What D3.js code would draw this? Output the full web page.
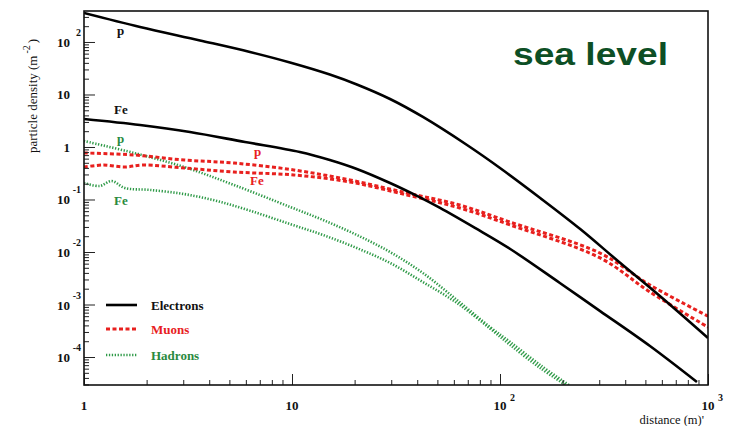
<!DOCTYPE html>
<html><head><meta charset="utf-8">
<script src="https://cdn.jsdelivr.net/npm/d3@7"></script>
<style>body{margin:0;background:#fff}svg{display:block}</style>
</head><body><svg id="c" width="730" height="426"></svg>
<script>
// ---- tick labels ----
const xTickValues = [1, 10, 100, 1000];
const xTickBases  = ["1", "10", "10", "10"];
const xTickExps   = ["", "", "2", "3"];
const yTickValues = [1e-4, 1e-3, 1e-2, 1e-1, 1, 10, 100];
const yTickBases  = ["10", "10", "10", "10", "1", "10", "10"];
const yTickExps   = ["-4", "-3", "-2", "-1", "", "", "2"];

// ---- series (distance in m, particle density in m^-2) ----
const electronsP_x = [1, 1.86, 3.61, 6.28, 9.78, 15.2, 20.5, 29.6, 42.6, 69.4, 100, 156, 243, 369, 587, 1000];
const electronsP_y = [356, 193, 107, 64.5, 40.7, 24.0, 15.5, 8.2, 3.73, 1.09, 0.398, 0.107, 0.0274, 0.00674, 0.00145, 0.00023];

const electronsFe_x = [1, 1.86, 3.23, 5.94, 10.9, 15.2, 20.5, 29.6, 39.9, 51.5, 75.8, 112, 194, 303, 526, 885];
const electronsFe_y = [3.41, 2.62, 1.93, 1.245, 0.803, 0.565, 0.381, 0.206, 0.117, 0.069, 0.0287, 0.0114, 0.00257, 0.00075, 0.000162, 0.0000334];

const muonsP_x = [1, 1.74, 3.03, 5.26, 10.2, 19, 35.7, 64, 112, 303, 526, 1000];
const muonsP_y = [0.77, 0.705, 0.565, 0.495, 0.365, 0.235, 0.133, 0.0785, 0.037, 0.0095, 0.00235, 0.0006];

const muonsFe_x = [1, 1.24, 1.56, 1.94, 3.03, 5.26, 10.2, 19, 35.7, 64, 112, 303, 526, 1000];
const muonsFe_y = [0.416, 0.454, 0.416, 0.454, 0.398, 0.334, 0.293, 0.215, 0.122, 0.069, 0.0327, 0.0077, 0.00173, 0.00037];

const hadronsP_x = [1, 1.74, 3.03, 5.26, 9.8, 14.1, 20.5, 29.6, 42.6, 62.1, 89.5, 112, 156, 215];
const hadronsP_y = [1.3, 0.77, 0.416, 0.189, 0.072, 0.0407, 0.0211, 0.010, 0.00398, 0.00122, 0.000373, 0.000193, 0.0000705, 0.000029];

const hadronsFe_x = [1, 1.19, 1.36, 1.57, 2.08, 3.03, 4.36, 6.35, 9.78, 14.1, 20.5, 29.6, 42.6, 62.1, 89.5, 112, 156, 208];
const hadronsFe_y = [0.206, 0.181, 0.225, 0.166, 0.152, 0.127, 0.0936, 0.0604, 0.0341, 0.0211, 0.0119, 0.0062, 0.00268, 0.00107, 0.00035, 0.000169, 0.0000617, 0.000029];

const legendNames = ["Electrons", "Muons", "Hadrons"];

// ---- chart ----
const svg = d3.select("#c");
const L = 84, R = 708, T = 11, B = 385;
const x = d3.scaleLog().domain([1, 1000]).range([L, R]);
const y = d3.scaleLog().domain([Math.pow(10, -4.533), Math.pow(10, 2.59)]).range([B, T]);

const RED = "#e8201e", GREEN = "#2f9a48", GREEN_T = "#2a8a3e";
const styles = {
  Electrons: {stroke: "#000", width: 2.6, dash: null},
  Muons: {stroke: RED, width: 3, dash: "4,2.5"},
  Hadrons: {stroke: GREEN, width: 2.6, dash: "1.3,1.6"}
};

svg.append("defs").append("clipPath").attr("id", "clip")
  .append("rect").attr("x", L).attr("y", T).attr("width", R - L).attr("height", B - T);

const series = [
  {kind: "Hadrons", xs: hadronsP_x, ys: hadronsP_y},
  {kind: "Hadrons", xs: hadronsFe_x, ys: hadronsFe_y},
  {kind: "Muons", xs: muonsP_x, ys: muonsP_y},
  {kind: "Muons", xs: muonsFe_x, ys: muonsFe_y},
  {kind: "Electrons", xs: electronsP_x, ys: electronsP_y},
  {kind: "Electrons", xs: electronsFe_x, ys: electronsFe_y}
];

const line = d3.line().x(d => x(d[0])).y(d => y(d[1])).curve(d3.curveCatmullRom.alpha(0.5));
const g = svg.append("g").attr("clip-path", "url(#clip)");
series.forEach(s => {
  const st = styles[s.kind];
  g.append("path").datum(s.xs.map((v, i) => [v, s.ys[i]]))
    .attr("d", line).attr("fill", "none")
    .attr("stroke", st.stroke).attr("stroke-width", st.width)
    .attr("stroke-dasharray", st.dash);
});

// ---- axes (ticks inside) ----
const yMinor = [];
for (let n = -5; n <= 2; n++) for (let k = 2; k <= 9; k++) {
  const v = k * Math.pow(10, n);
  if (v > y.domain()[0] && v < y.domain()[1]) yMinor.push(v);
}
const xMinor = [];
for (let n = 0; n <= 2; n++) for (let k = 2; k <= 9; k++) xMinor.push(k * Math.pow(10, n));

function styleAxis(sel) {
  sel.select(".domain").remove();
  sel.selectAll("line").attr("stroke", "#222").attr("stroke-width", 1);
  sel.selectAll("text").remove();
}
svg.append("g").attr("transform", `translate(${L},0)`)
  .call(d3.axisRight(y).tickValues(yTickValues).tickSize(11).tickFormat("")).call(styleAxis);
svg.append("g").attr("transform", `translate(${L},0)`)
  .call(d3.axisRight(y).tickValues(yMinor).tickSize(5).tickFormat("")).call(styleAxis);
svg.append("g").attr("transform", `translate(0,${B})`)
  .call(d3.axisTop(x).tickValues(xTickValues).tickSize(11).tickFormat("")).call(styleAxis);
svg.append("g").attr("transform", `translate(0,${B})`)
  .call(d3.axisTop(x).tickValues(xMinor).tickSize(5).tickFormat("")).call(styleAxis);

// frame
svg.append("rect").attr("x", L).attr("y", T).attr("width", R - L).attr("height", B - T)
  .attr("fill", "none").attr("stroke", "#111").attr("stroke-width", 1.6);

const SERIF = "'Liberation Serif','Times New Roman',serif";

// y tick labels
yTickValues.forEach((v, i) => {
  const ty = y(v);
  svg.append("text").attr("x", 70).attr("y", ty + 5)
    .attr("text-anchor", "end").attr("font-family", SERIF).attr("font-weight", "bold")
    .attr("font-size", 13).attr("fill", "#111").text(yTickBases[i]);
  if (yTickExps[i]) {
    svg.append("text").attr("x", 81).attr("y", ty - 6)
      .attr("text-anchor", "end").attr("font-family", SERIF).attr("font-weight", "bold")
      .attr("font-size", 10).attr("fill", "#111").text(yTickExps[i]);
  }
});
// x tick labels
xTickValues.forEach((v, i) => {
  const tx = x(v);
  svg.append("text").attr("x", tx).attr("y", 410)
    .attr("text-anchor", "middle").attr("font-family", SERIF).attr("font-weight", "bold")
    .attr("font-size", 13).attr("fill", "#111").text(xTickBases[i]);
  if (xTickExps[i]) {
    svg.append("text").attr("x", tx + 10).attr("y", 401)
      .attr("text-anchor", "start").attr("font-family", SERIF).attr("font-weight", "bold")
      .attr("font-size", 10).attr("fill", "#111").text(xTickExps[i]);
  }
});

// axis titles
svg.append("text").attr("x", 704).attr("y", 424).attr("text-anchor", "end")
  .attr("font-family", SERIF).attr("font-size", 12.5).attr("fill", "#111").text("distance (m)'");
const yt = svg.append("text").attr("transform", "translate(37,153) rotate(-90)")
  .attr("font-family", SERIF).attr("font-size", 13).attr("fill", "#111");
yt.append("tspan").text("particle density (m");
yt.append("tspan").attr("dy", -7).attr("dx", 2).attr("font-size", 10).text("-2");
yt.append("tspan").attr("dy", 7).attr("dx", 2).text(")");

// title
svg.append("text").attr("x", 513).attr("y", 65)
  .attr("font-family", "'Liberation Sans',Arial,sans-serif").attr("font-weight", "bold")
  .attr("font-size", 32).attr("fill", "#0d4f25")
  .attr("textLength", 155).attr("lengthAdjust", "spacingAndGlyphs").text("sea level");

// curve labels
function lab(t, px, py, c) {
  svg.append("text").attr("x", px).attr("y", py).attr("font-family", SERIF)
    .attr("font-weight", "bold").attr("font-size", 13).attr("fill", c).text(t);
}
lab("p", 117, 35, "#111");
lab("Fe", 114, 114, "#111");
lab("p", 117, 143, GREEN_T);
lab("Fe", 114, 205, GREEN_T);
lab("p", 254, 156, RED);
lab("Fe", 250, 185, RED);

// legend
const legY = [305, 329, 355];
const legCol = ["#111", RED, GREEN_T];
legendNames.forEach((n, i) => {
  const st = styles[n];
  svg.append("line").attr("x1", 106).attr("x2", 137).attr("y1", legY[i]).attr("y2", legY[i])
    .attr("stroke", st.stroke).attr("stroke-width", st.width).attr("stroke-dasharray", st.dash);
  svg.append("text").attr("x", 151).attr("y", legY[i] + 5).attr("font-family", SERIF)
    .attr("font-weight", "bold").attr("font-size", 13).attr("fill", legCol[i]).text(n);
});
</script></body></html>
